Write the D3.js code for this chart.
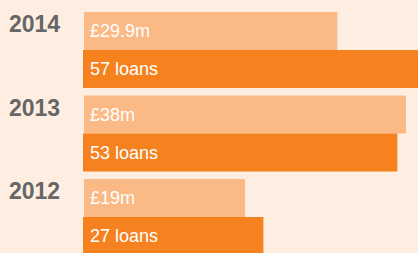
<!DOCTYPE html>
<meta charset="utf-8">
<script src="https://d3js.org/d3.v7.min.js"></script>
<div id="chart"></div>
<style>
  body {
    margin: 0;
    background-color: #fdeee1;
    font-family: 'Liberation Sans', Arial, sans-serif;
  }
</style>
<script>

// data
var years = ["2014", "2013", "2012"];
var amounts = [29.9, 38, 19];          // £m
var amountLabels = ["£29.9m", "£38m", "£19m"];
var loans = [57, 53, 27];

var colors = {
  "amount": "#fab985",
  "loans": "#f5821f",
  "year": "#666666",
  "label": "#ffffff"
};

var width = 418, height = 253;
var barLeft = 83;

var svg = d3.select("#chart")
  .append("svg")
  .attr("width", width)
  .attr("height", height);

// one band per year, each band holds two stacked bars
var y = d3.scaleBand()
  .domain(years)
  .range([12, 255])
  .paddingInner(0.09)
  .paddingOuter(0);

var barH = y.bandwidth() / 2;

var xAmount = d3.scaleLinear().domain([0, 38]).range([0, 322]);
var xLoans = d3.scaleLinear().domain([-8, 57]).range([0, 335]);

var rows = years.map(function(d, i) {
  return {year: d, amount: amounts[i], amountLabel: amountLabels[i], loans: loans[i]};
});

var g = svg.selectAll("g.year")
  .data(rows)
  .enter()
  .append("g")
    .attr("class", "year")
    .attr("transform", function(d) { return "translate(0," + y(d.year) + ")"; });

g.append("text")
  .attr("x", 9)
  .attr("y", 20)
  .style("font-size", "23px")
  .style("font-weight", "bold")
  .style("fill", colors.year)
  .text(function(d) { return d.year; });

g.append("rect")
  .attr("x", barLeft + 1)
  .attr("y", 0)
  .attr("width", function(d) { return xAmount(d.amount); })
  .attr("height", barH)
  .style("fill", colors.amount);

g.append("rect")
  .attr("x", barLeft)
  .attr("y", barH)
  .attr("width", function(d) { return xLoans(d.loans); })
  .attr("height", barH)
  .style("fill", colors.loans);

g.append("text")
  .attr("x", barLeft + 7)
  .attr("y", barH / 2 + 6.5)
  .style("font-size", "18px")
  .style("fill", colors.label)
  .text(function(d) { return d.amountLabel; });

g.append("text")
  .attr("x", barLeft + 7)
  .attr("y", barH * 1.5 + 6.5)
  .style("font-size", "18px")
  .style("fill", colors.label)
  .text(function(d) { return d.loans + " loans"; });

</script>
